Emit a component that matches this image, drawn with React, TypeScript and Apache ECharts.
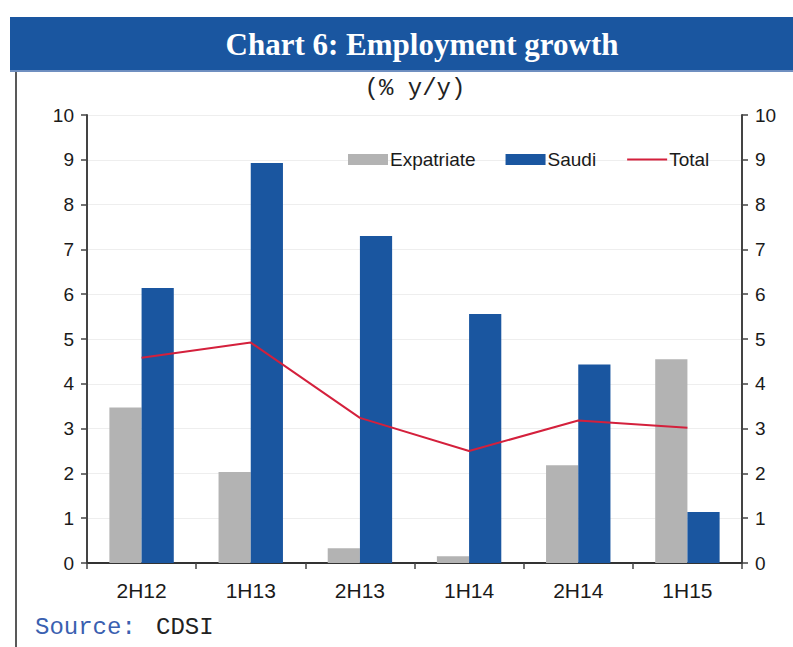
import React, { useEffect, useRef } from "react";
import * as echarts from "echarts";

const categories = ["2H12", "1H13", "2H13", "1H14", "2H14", "1H15"];
const expatriate = [3.47, 2.03, 0.33, 0.15, 2.18, 4.55];
const saudi = [6.14, 8.93, 7.3, 5.56, 4.43, 1.14];
const total = [4.58, 4.92, 3.24, 2.5, 3.18, 3.02];
const yTicks = { min: 0, max: 10, interval: 1 };

export default function App() {
  const ref = useRef<HTMLDivElement>(null);
  useEffect(() => {
    if (!ref.current) return;
    const chart = echarts.init(ref.current, undefined, { renderer: "svg" });
    const axisCommon = {
      type: "value" as const,
      min: yTicks.min,
      max: yTicks.max,
      interval: yTicks.interval,
      axisLine: { show: true, lineStyle: { color: "#444", width: 2 } },
      axisTick: { show: true, length: 6, lineStyle: { color: "#444", width: 1.5 } },
      axisLabel: { color: "#1a1a1a", fontSize: 19, fontFamily: "Liberation Sans, Arial", margin: 13 },
    };
    const mono = "'Liberation Mono', 'DejaVu Sans Mono', monospace";
    chart.setOption({
      animation: false,
      backgroundColor: "#fff",
      graphic: [
        { type: "rect", shape: { x: 10, y: 17, width: 783, height: 55 }, style: { fill: "#1a56a0" } },
        { type: "line", shape: { x1: 10, y1: 71, x2: 793, y2: 71 }, style: { stroke: "#6f8fc0", lineWidth: 2 } },
        { type: "line", shape: { x1: 16, y1: 72, x2: 16, y2: 647 }, style: { stroke: "#222", lineWidth: 1.5 } },
        {
          type: "text",
          x: 422,
          y: 44,
          style: {
            text: "Chart 6: Employment growth",
            fill: "#fff",
            font: "bold 31px 'Liberation Serif', 'Times New Roman', serif",
            align: "center",
            verticalAlign: "middle",
          },
        },
        {
          type: "text",
          x: 415,
          y: 88,
          style: {
            text: "(% y/y)",
            fill: "#222",
            font: "24px " + mono,
            align: "center",
            verticalAlign: "middle",
          },
        },
        {
          type: "text",
          x: 35,
          y: 627,
          style: { text: "Source:", fill: "#3a5fb0", font: "24px " + mono, verticalAlign: "middle" },
        },
        {
          type: "text",
          x: 156,
          y: 627,
          style: { text: "CDSI", fill: "#222", font: "24px " + mono, verticalAlign: "middle" },
        },
      ],
      legend: {
        left: 343,
        top: 145,
        itemWidth: 40,
        itemHeight: 11,
        itemGap: 30,
        textStyle: { color: "#1a1a1a", fontSize: 19, fontFamily: "Liberation Sans, Arial", padding: [0, 0, 0, -3] },
        data: [
          { name: "Expatriate", icon: "rect" },
          { name: "Saudi", icon: "rect" },
          { name: "Total", itemStyle: { opacity: 0 } },
        ],
      },
      grid: { left: 87, right: 51, top: 115, bottom: 84 },
      xAxis: {
        type: "category",
        data: categories,
        axisLine: { lineStyle: { color: "#333", width: 2 } },
        axisTick: { show: true, length: 6, lineStyle: { color: "#444", width: 1.5 } },
        axisLabel: { color: "#1a1a1a", fontSize: 21, fontFamily: "Liberation Sans, Arial", margin: 17 },
      },
      yAxis: [
        { ...axisCommon, position: "left", splitLine: { show: true, lineStyle: { color: "#eeeeee", width: 1 } } },
        { ...axisCommon, position: "right", splitLine: { show: false } },
      ],
      series: [
        {
          name: "Expatriate",
          type: "bar",
          data: expatriate,
          barGap: "0%",
          barCategoryGap: "41%",
          itemStyle: { color: "#b3b3b3" },
        },
        {
          name: "Saudi",
          type: "bar",
          data: saudi,
          barGap: "0%",
          barCategoryGap: "41%",
          itemStyle: { color: "#1a56a0" },
        },
        {
          name: "Total",
          type: "line",
          data: total,
          symbol: "none",
          showSymbol: false,
          lineStyle: { color: "#d4203c", width: 2 },
          itemStyle: { color: "#d4203c" },
        },
      ],
    });
    return () => chart.dispose();
  }, []);
  return <div ref={ref} style={{ position: "fixed", left: 0, top: 0, width: 793, height: 647 }} />;
}
